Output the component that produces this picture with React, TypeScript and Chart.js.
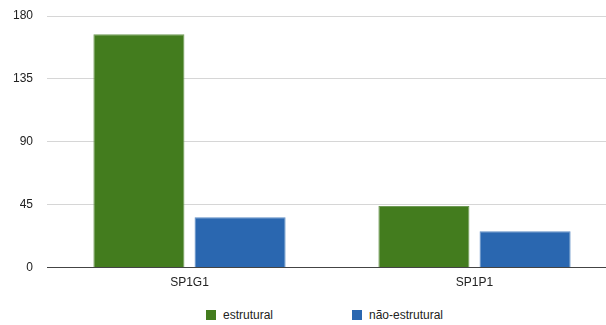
import React, { useEffect, useRef } from "react";
import { Chart, registerables } from "chart.js";

Chart.register(...registerables);

const categories = ["SP1G1", "SP1P1"];
const estrutural = [167, 44];
const naoEstrutural = [36, 26];
const yTicks = [0, 45, 90, 135, 180];
const seriesNames = ["estrutural", "não-estrutural"];
const seriesColors = ["#437c1e", "#2a67b0"];

const FONT = "'Liberation Sans', Arial, Helvetica, sans-serif";

export default function App() {
  const ref = useRef<HTMLCanvasElement | null>(null);

  useEffect(() => {
    const canvas = ref.current;
    if (!canvas) return;
    const chart = new Chart(canvas, {
      type: "bar",
      data: {
        labels: categories,
        datasets: [
          {
            label: seriesNames[0],
            data: estrutural,
            backgroundColor: seriesColors[0],
            borderColor: "#6f9a55",
            borderWidth: 1,
            categoryPercentage: 0.71,
            barPercentage: 0.9,
          },
          {
            label: seriesNames[1],
            data: naoEstrutural,
            backgroundColor: seriesColors[1],
            borderColor: "#5d8cc4",
            borderWidth: 1,
            categoryPercentage: 0.71,
            barPercentage: 0.9,
          },
        ],
      },
      options: {
        animation: false,
        responsive: false,
        maintainAspectRatio: false,
        layout: { padding: { top: 0, right: 3, bottom: 0, left: 0 } },
        plugins: {
          legend: { display: false },
          tooltip: { enabled: false },
        },
        scales: {
          x: {
            grid: { display: false, drawTicks: false },
            border: { display: true, color: "#444", width: 1 },
            ticks: {
              color: "#222",
              padding: 8,
              font: { family: FONT, size: 12 },
            },
          },
          y: {
            min: 0,
            max: 180,
            afterFit: (s: any) => {
              s.width = 47;
              s.paddingTop = 16;
            },
            afterBuildTicks: (s: any) => {
              s.ticks = yTicks.map((v) => ({ value: v }));
            },
            grid: {
              drawTicks: false,
              color: (c: any) => (c.tick && c.tick.value === 0 ? "#444" : "#d6d6d6"),
            },
            border: { display: false },
            ticks: {
              color: "#222",
              padding: 14,
              font: { family: FONT, size: 12 },
            },
          },
        },
      },
    });
    return () => chart.destroy();
  }, []);

  return (
    <div
      style={{
        position: "fixed",
        left: 0,
        top: 0,
        width: 606,
        height: 325,
        overflow: "hidden",
        background: "#fff",
      }}
    >
      <canvas
        ref={ref}
        width={620}
        height={298}
        style={{ position: "absolute", left: 0, top: 0, width: 620, height: 298 }}
      />
      {seriesNames.map((name, i) => (
        <div
          key={name}
          style={{
            position: "absolute",
            left: i === 0 ? 206 : 352,
            top: 308,
            height: 14,
            display: "flex",
            alignItems: "center",
            fontFamily: FONT,
            fontSize: 12,
            color: "#222",
            whiteSpace: "nowrap",
          }}
        >
          <span
            style={{
              display: "inline-block",
              width: 10,
              height: 10,
              background: seriesColors[i],
              marginRight: 7,
            }}
          />
          {name}
        </div>
      ))}
    </div>
  );
}
